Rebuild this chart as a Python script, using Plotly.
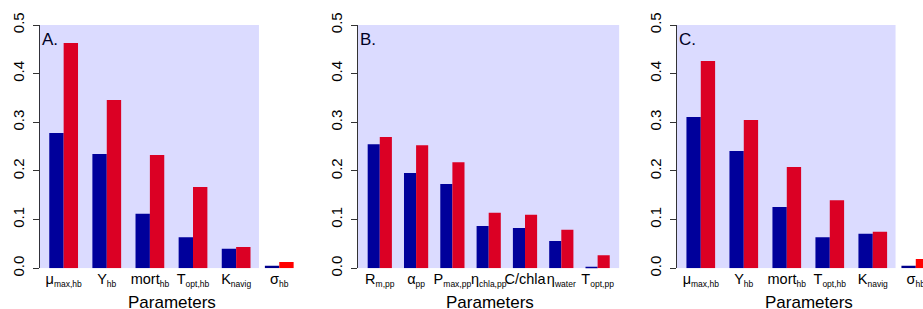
import plotly.graph_objects as go

# ---------------- data ----------------
params_hb = ["mu_max,hb", "Y_hb", "mort_hb", "T_opt,hb", "K_navig", "sigma_hb"]
labels_hb = ["μ<sub>max,hb</sub>", "Y<sub>hb</sub>", "mort<sub>hb</sub>",
             "T<sub>opt,hb</sub>", "K<sub>navig</sub>", "σ<sub>hb</sub>"]
a_blue = [0.278, 0.235, 0.112, 0.064, 0.040, 0.005]
a_red = [0.463, 0.346, 0.233, 0.167, 0.044, 0.013]

params_pp = ["R_m,pp", "alpha_pp", "P_max,pp", "eta_chla,pp", "C/chla", "eta_water", "T_opt,pp"]
labels_pp = ["R<sub>m,pp</sub>", "α<sub>pp</sub>", "P<sub>max,pp</sub>",
             "η<sub>chla,pp</sub>", "C/chla", "η<sub>water</sub>", "T<sub>opt,pp</sub>"]
b_blue = [0.255, 0.196, 0.173, 0.087, 0.083, 0.056, 0.003]
b_red = [0.270, 0.253, 0.218, 0.114, 0.110, 0.079, 0.027]

c_blue = [0.311, 0.241, 0.126, 0.064, 0.071, 0.005]
c_red = [0.426, 0.305, 0.208, 0.140, 0.075, 0.019]

y_ticks = [0.0, 0.1, 0.2, 0.3, 0.4, 0.5]
y_ticktext = ["0.0", "0.1", "0.2", "0.3", "0.4", "0.5"]
panel_tags = ["A.", "B.", "C."]
x_title = "Parameters"

# ---------------- style / layout ----------------
W, H = 923, 309
FONT = "Liberation Sans, Arial, Helvetica, sans-serif"
BLUE = "#00008B"
RED = "#FF0000"
OVERLAY = "rgba(0,0,255,0.14)"
SUB_PX = 8.5


def small_sub(lbl):
    return lbl.replace("<sub>", "<sub><span style='font-size:%spx'>" % SUB_PX).replace(
        "</sub>", "</span></sub>")


y_bot_px, y_top_px = 268.3, 25.0
ydom = [(H - y_bot_px) / H, (H - y_top_px) / H]

panels = [
    dict(params=params_hb, labels=labels_hb, blue=a_blue, red=a_red,
         dom=[39.5 / W, 303.4 / W], rng=[-0.56, 5.56], rect_x1=4.53, title_px=171.5),
    dict(params=params_pp, labels=labels_pp, blue=b_blue, red=b_red,
         dom=[358.0 / W, 619.4 / W], rng=[-0.6, 6.6], rect_x1=6.6, title_px=489.5),
    dict(params=params_hb, labels=labels_hb, blue=c_blue, red=c_red,
         dom=[676.7 / W, 1.0], rng=[-0.56, 5.168], rect_x1=4.53, title_px=809.0),
]

fig = go.Figure()
layout = dict(
    width=W, height=H,
    margin=dict(l=0, r=0, t=0, b=0, autoexpand=False),
    paper_bgcolor="white", plot_bgcolor="white",
    showlegend=False, barmode="group", bargap=1 / 3, bargroupgap=0,
    font=dict(family=FONT, color="black", size=15),
)
shapes, annotations = [], []

for i, p in enumerate(panels):
    n = "" if i == 0 else str(i + 1)
    xa, ya = "x" + n, "y" + n
    fig.add_trace(go.Bar(x=p["params"], y=p["blue"], marker=dict(color=BLUE, line=dict(width=0)),
                         xaxis=xa, yaxis=ya, offsetgroup="1"))
    fig.add_trace(go.Bar(x=p["params"], y=p["red"], marker=dict(color=RED, line=dict(width=0)),
                         xaxis=xa, yaxis=ya, offsetgroup="2"))
    layout["xaxis" + n] = dict(
        domain=p["dom"], range=p["rng"], type="category", anchor=ya, automargin=False,
        tickmode="array", tickvals=p["params"], ticktext=[small_sub(t) for t in p["labels"]],
        ticks="", showline=False, showgrid=False, zeroline=False, tickangle=0,
        tickfont=dict(size=14.5, family=FONT, color="black"), fixedrange=True,
    )
    layout["yaxis" + n] = dict(
        domain=ydom, range=[0, 0.5], anchor=xa, automargin=False,
        tickmode="array", tickvals=y_ticks, ticktext=y_ticktext,
        ticks="outside", ticklen=6, tickwidth=1, tickcolor="#333333",
        showline=True, linecolor="#333333", linewidth=1,
        showgrid=False, zeroline=False, tickangle=-90, ticklabelstandoff=3,
        tickfont=dict(size=15, family=FONT, color="black"), fixedrange=True,
    )
    shapes.append(dict(type="rect", layer="above", xref=xa, yref=ya,
                       x0=p["rng"][0], x1=p["rect_x1"], y0=0, y1=0.5,
                       fillcolor=OVERLAY, line=dict(width=0)))
    annotations.append(dict(text=panel_tags[i], xref=xa + " domain", yref=ya + " domain",
                            x=0, y=0.94, xanchor="left", yanchor="middle", showarrow=False,
                            font=dict(size=17, family=FONT, color="#000024")))
    annotations.append(dict(text=x_title, xref="paper", yref="paper",
                            x=p["title_px"] / W, y=(H - 302) / H, xanchor="center", yanchor="middle",
                            showarrow=False, font=dict(size=17, family=FONT, color="black")))

layout["shapes"] = shapes
layout["annotations"] = annotations
fig.update_layout(**layout)
fig.write_html("out.html", config={"displayModeBar": False},
               post_script="document.body.style.margin='0';document.body.style.padding='0';")
